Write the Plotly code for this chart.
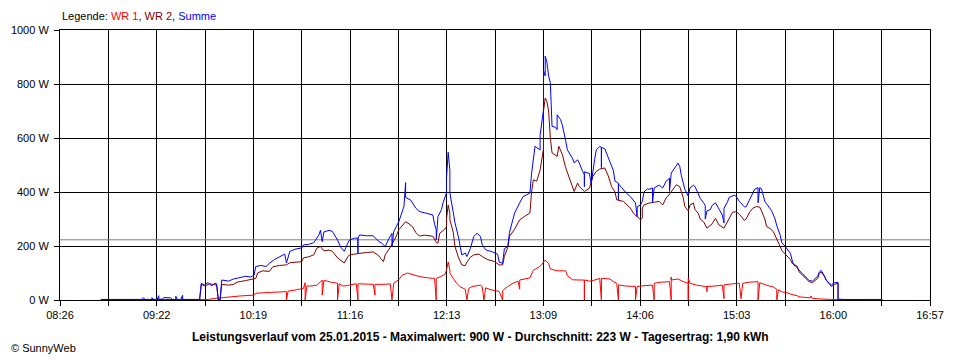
import plotly.graph_objects as go

# ---------------- data ----------------
x_tick_labels = ["08:26", "09:22", "10:19", "11:16", "12:13",
                 "13:09", "14:06", "15:03", "16:00", "16:57"]
y_ticks = [0, 200, 400, 600, 800, 1000]
average_w = 223  # Durchschnitt

title_text = ("Leistungsverlauf vom 25.01.2015 - Maximalwert: 900 W - "
              "Durchschnitt: 223 W - Tagesertrag: 1,90 kWh")

summe_t = ["08:50", "09:14", "09:15", "09:16", "09:20", "09:20", "09:21", "09:23", "09:24", "09:24",
           "09:26", "09:27", "09:31", "09:32", "09:34", "09:34", "09:35", "09:37", "09:38", "09:38",
           "09:48", "09:49", "09:51", "09:53", "09:55", "09:57", "09:58", "09:59", "10:00", "10:01",
           "10:05", "10:08", "10:11", "10:15", "10:18", "10:20", "10:21", "10:24", "10:27", "10:29",
           "10:32", "10:35", "10:38", "10:39", "10:41", "10:44", "10:48", "10:49", "10:52", "10:55",
           "10:58", "10:59", "11:00", "11:01", "11:04", "11:06", "11:09", "11:11", "11:13", "11:15",
           "11:16", "11:19", "11:21", "11:21", "11:21", "11:22", "11:26", "11:30", "11:33", "11:35",
           "11:37", "11:39", "11:41", "11:41", "11:42", "11:45", "11:48", "11:49", "11:49", "11:52",
           "11:53", "11:55", "11:57", "12:01", "12:05", "12:06", "12:07", "12:07", "12:08", "12:10",
           "12:11", "12:13", "12:13", "12:14", "12:15", "12:15", "12:17", "12:18", "12:20", "12:22",
           "12:24", "12:25", "12:27", "12:29", "12:31", "12:33", "12:34", "12:36", "12:40", "12:43",
           "12:44", "12:46", "12:47", "12:49", "12:50", "12:53", "12:56", "12:58", "13:02", "13:03",
           "13:05", "13:07", "13:08", "13:08", "13:10", "13:10", "13:11", "13:11", "13:12", "13:13",
           "13:14", "13:15", "13:17", "13:18", "13:18", "13:20", "13:21", "13:23", "13:24", "13:27",
           "13:28", "13:30", "13:31", "13:33", "13:34", "13:34", "13:34", "13:37", "13:38", "13:40",
           "13:41", "13:43", "13:44", "13:44", "13:44", "13:46", "13:47", "13:49", "13:51", "13:52",
           "13:54", "13:54", "13:54", "13:56", "13:58", "14:01", "14:03", "14:04", "14:05", "14:05",
           "14:07", "14:08", "14:09", "14:11", "14:12", "14:14", "14:14", "14:15", "14:17", "14:18",
           "14:20", "14:22", "14:24", "14:24", "14:25", "14:27", "14:29", "14:30", "14:31", "14:33",
           "14:35", "14:36", "14:38", "14:39", "14:41", "14:42", "14:44", "14:45", "14:45", "14:46",
           "14:48", "14:49", "14:51", "14:52", "14:54", "14:55", "14:56", "14:56", "14:58", "14:59",
           "15:02", "15:03", "15:05", "15:08", "15:09", "15:11", "15:13", "15:14", "15:16", "15:16",
           "15:17", "15:18", "15:20", "15:22", "15:24", "15:26", "15:27", "15:29", "15:30", "15:32",
           "15:33", "15:35", "15:36", "15:37", "15:39", "15:40", "15:42", "15:45", "15:46", "15:48",
           "15:50", "15:51", "15:52", "15:53", "15:55", "15:56", "15:58", "15:59", "16:01", "16:03",
           "16:03", "16:07", "16:29"]
summe_w = [2, 2, 8, 2, 2, 9, 2, 2, 16, 3,
           3, 9, 8, 2, 2, 14, 2, 2, 18, 2,
           2, 62, 55, 65, 52, 62, 60, 0, 0, 74,
           70, 78, 82, 88, 85, 92, 124, 128, 124, 136,
           150, 160, 170, 137, 180, 188, 193, 204, 206, 212,
           240, 258, 216, 252, 258, 254, 222, 195, 180, 210,
           222, 229, 229, 173, 229, 241, 238, 238, 218, 210,
           198, 225, 247, 198, 253, 290, 346, 435, 380, 370,
           360, 340, 328, 322, 315, 280, 260, 223, 309, 334,
           360, 397, 450, 547, 480, 397, 330, 286, 234, 167,
           174, 161, 190, 235, 247, 235, 205, 186, 178, 170,
           140, 136, 190, 198, 250, 322, 360, 383, 396, 470,
           569, 560, 556, 610, 705, 850, 830, 903, 880, 830,
           804, 643, 640, 631, 686, 668, 649, 590, 556, 525,
           508, 519, 508, 475, 464, 420, 475, 468, 430, 520,
           556, 569, 565, 490, 565, 560, 545, 515, 480, 440,
           433, 371, 430, 416, 400, 383, 370, 360, 309, 346,
           352, 365, 400, 412, 410, 415, 360, 415, 423, 425,
           415, 440, 451, 402, 470, 490, 507, 495, 460, 410,
           385, 415, 425, 420, 395, 377, 360, 350, 300, 330,
           335, 350, 360, 348, 325, 315, 285, 340, 362, 380,
           388, 385, 365, 345, 345, 370, 395, 410, 416, 360,
           416, 412, 365, 345, 330, 300, 275, 240, 212, 198,
           188, 173, 148, 130, 120, 111, 98, 80, 72, 70,
           82, 88, 104, 110, 90, 74, 62, 56, 64, 65,
           3, 2, 2]

wr2_t = ["08:50", "09:48", "09:49", "09:51", "09:54", "09:57", "09:58", "09:59", "10:00", "10:01",
         "10:05", "10:08", "10:10", "10:15", "10:18", "10:21", "10:22", "10:25", "10:29", "10:31",
         "10:35", "10:39", "10:41", "10:45", "10:48", "10:49", "10:52", "10:55", "10:57", "10:59",
         "11:01", "11:04", "11:06", "11:09", "11:11", "11:13", "11:15", "11:16", "11:19", "11:22",
         "11:26", "11:30", "11:33", "11:36", "11:37", "11:40", "11:43", "11:45", "11:48", "11:49",
         "11:51", "11:53", "11:55", "11:57", "12:00", "12:05", "12:07", "12:08", "12:09", "12:12",
         "12:13", "12:13", "12:14", "12:15", "12:15", "12:17", "12:18", "12:20", "12:22", "12:24",
         "12:25", "12:27", "12:29", "12:32", "12:34", "12:37", "12:41", "12:44", "12:46", "12:47",
         "12:49", "12:50", "12:53", "12:56", "12:59", "13:02", "13:03", "13:04", "13:06", "13:08",
         "13:10", "13:10", "13:11", "13:12", "13:13", "13:14", "13:15", "13:18", "13:19", "13:20",
         "13:21", "13:23", "13:25", "13:27", "13:28", "13:30", "13:31", "13:34", "13:37", "13:39",
         "13:41", "13:43", "13:46", "13:48", "13:50", "13:52", "13:53", "13:57", "13:59", "14:01",
         "14:03", "14:05", "14:07", "14:08", "14:08", "14:09", "14:12", "14:15", "14:18", "14:20",
         "14:22", "14:24", "14:26", "14:28", "14:30", "14:32", "14:33", "14:35", "14:36", "14:38",
         "14:39", "14:41", "14:42", "14:44", "14:46", "14:48", "14:49", "14:51", "14:52", "14:53",
         "14:56", "14:58", "14:59", "15:01", "15:03", "15:05", "15:08", "15:09", "15:11", "15:13",
         "15:15", "15:17", "15:18", "15:20", "15:21", "15:23", "15:25", "15:27", "15:29", "15:30",
         "15:33", "15:35", "15:36", "15:39", "15:40", "15:42", "15:45", "15:46", "15:48", "15:50",
         "15:51", "15:52", "15:53", "15:55", "15:56", "15:58", "15:59", "16:01", "16:03", "16:03",
         "16:29"]
wr2_w = [2, 2, 58, 52, 60, 55, 55, 0, 0, 58,
         55, 58, 66, 72, 75, 80, 100, 108, 106, 123,
         128, 130, 138, 140, 142, 156, 160, 167, 193, 198,
         182, 185, 180, 156, 145, 137, 160, 167, 170, 173,
         176, 178, 165, 142, 167, 195, 230, 260, 285, 290,
         282, 272, 250, 237, 240, 236, 213, 210, 247, 262,
         272, 300, 352, 320, 297, 250, 198, 158, 130, 127,
         140, 158, 167, 170, 161, 150, 143, 130, 130, 161,
         195, 235, 262, 297, 310, 322, 400, 445, 440, 482,
         560, 700, 748, 735, 700, 600, 545, 532, 569, 552,
         540, 490, 453, 420, 402, 433, 420, 402, 414, 458,
         476, 485, 489, 460, 420, 400, 371, 365, 352, 340,
         320, 309, 297, 303, 340, 352, 359, 362, 365, 352,
         378, 392, 410, 427, 420, 380, 346, 330, 352, 359,
         335, 320, 300, 290, 266, 275, 282, 303, 290, 278,
         266, 290, 305, 325, 327, 318, 295, 300, 325, 340,
         346, 344, 330, 300, 272, 265, 253, 228, 198, 183,
         163, 150, 136, 125, 105, 92, 74, 68, 64, 74,
         80, 98, 104, 87, 74, 58, 50, 58, 62, 1,
         1]

wr1_t = ["08:50", "09:51", "09:53", "09:57", "10:02", "10:03", "10:12", "10:20", "10:21", "10:29",
         "10:37", "10:39", "10:39", "10:40", "10:45", "10:49", "10:50", "10:50", "10:51", "10:54",
         "10:57", "11:00", "11:00", "11:01", "11:03", "11:05", "11:09", "11:09", "11:10", "11:12",
         "11:15", "11:16", "11:20", "11:21", "11:21", "11:25", "11:30", "11:31", "11:31", "11:37",
         "11:40", "11:41", "11:42", "11:45", "11:47", "11:50", "11:53", "11:57", "12:02", "12:05",
         "12:06", "12:07", "12:07", "12:10", "12:12", "12:13", "12:14", "12:15", "12:15", "12:17",
         "12:19", "12:21", "12:24", "12:25", "12:26", "12:28", "12:33", "12:34", "12:35", "12:36",
         "12:39", "12:43", "12:44", "12:46", "12:46", "12:49", "12:52", "12:55", "12:56", "12:56",
         "12:59", "13:02", "13:04", "13:06", "13:08", "13:10", "13:11", "13:13", "13:14", "13:18",
         "13:23", "13:24", "13:27", "13:31", "13:34", "13:34", "13:34", "13:37", "13:39", "13:43",
         "13:44", "13:44", "13:49", "13:51", "13:53", "13:54", "13:54", "13:58", "14:01", "14:04",
         "14:04", "14:05", "14:09", "14:12", "14:14", "14:15", "14:15", "14:19", "14:24", "14:25",
         "14:25", "14:25", "14:29", "14:32", "14:35", "14:35", "14:35", "14:36", "14:40", "14:45",
         "14:46", "14:46", "14:46", "14:51", "14:55", "14:56", "14:56", "15:01", "15:05", "15:06",
         "15:07", "15:11", "15:16", "15:16", "15:17", "15:21", "15:25", "15:27", "15:27", "15:28",
         "15:30", "15:33", "15:36", "15:39", "15:40", "15:43", "15:47", "15:47", "15:48", "15:52",
         "16:00", "16:03", "16:29"]
wr1_w = [0, 0, 2, 6, 9, 12, 15, 18, 25, 28,
         31, 31, 0, 33, 38, 43, 64, 0, 52, 52,
         55, 74, 18, 72, 70, 66, 62, 0, 60, 52,
         53, 56, 60, 0, 60, 60, 58, 18, 58, 58,
         60, 0, 62, 75, 92, 100, 95, 87, 82, 80,
         80, 0, 80, 88, 95, 110, 141, 110, 99, 80,
         62, 49, 40, 0, 42, 50, 55, 50, 0, 45,
         38, 33, 31, 0, 35, 50, 62, 70, 40, 74,
         78, 82, 110, 118, 125, 140, 148, 135, 115, 108,
         108, 90, 75, 74, 74, 0, 74, 70, 72, 80,
         0, 80, 78, 68, 62, 0, 56, 52, 52, 50,
         0, 50, 53, 55, 55, 0, 62, 66, 68, 0,
         85, 74, 78, 68, 62, 0, 80, 62, 55, 50,
         50, 31, 50, 52, 55, 5, 56, 60, 62, 5,
         62, 66, 68, 0, 64, 55, 48, 40, 0, 38,
         30, 27, 20, 16, 12, 10, 8, 15, 6, 4,
         2, 1, 0]


def to_min(hhmm):
    h, m = hhmm.split(":")
    return int(h) * 60 + int(m)


# ---------------- geometry (page pixels) ----------------
# the page body has an 8px margin, so the figure is sized/offset to compensate
PAGE_OFF = 8
W, H = 960 - PAGE_OFF, 360 - PAGE_OFF
PLOT_L, PLOT_R, PLOT_T, PLOT_B = 60, 930, 30, 300
ML = PLOT_L - PAGE_OFF
MT = PLOT_T - PAGE_OFF
MR = 960 - PLOT_R
MB = 360 - PLOT_B


def px(xp):
    return (xp - PLOT_L) / (PLOT_R - PLOT_L)


def py(yp):
    return (PLOT_B - yp) / (PLOT_B - PLOT_T)


x_start = to_min(x_tick_labels[0])
x_end = to_min(x_tick_labels[-1])
n_lines = 2 * (len(x_tick_labels) - 1)
x_tickvals = [x_start + (x_end - x_start) * i / n_lines for i in range(n_lines + 1)]
x_ticktext = [x_tick_labels[i // 2] if i % 2 == 0 else "" for i in range(n_lines + 1)]

FONT = "Liberation Sans, Arial, Helvetica, sans-serif"

fig = go.Figure()
series = [
    ("WR 1", wr1_t, wr1_w, "#ff0000"),
    ("WR 2", wr2_t, wr2_w, "#800000"),
    ("Summe", summe_t, summe_w, "#0000ff"),
]
for name, tt, ww, col in series:
    fig.add_trace(go.Scatter(
        x=[to_min(t) for t in tt], y=ww, mode="lines", name=name,
        line=dict(color=col, width=1), hoverinfo="skip", showlegend=False,
    ))

fig.add_shape(type="line", xref="x", yref="y", x0=x_start, x1=x_end,
              y0=average_w, y1=average_w, line=dict(color="#808080", width=1),
              layer="between")

axis_common = dict(
    showgrid=True, gridcolor="#000000", gridwidth=1,
    showline=True, linecolor="#000000", linewidth=1, mirror=True,
    ticks="outside", ticklen=5, tickcolor="#000000", tickwidth=1,
    zeroline=False, tickfont=dict(family=FONT, size=11, color="#000000"),
    fixedrange=True,
)

fig.update_xaxes(range=[x_start, x_end], tickmode="array",
                 tickvals=x_tickvals, ticktext=x_ticktext, **axis_common)
fig.update_yaxes(range=[0, 1000], tickmode="array", tickvals=y_ticks,
                 ticktext=[f"{v} W" for v in y_ticks], ticklabelstandoff=3,
                 **axis_common)

legend_html = ("Legende: <span style='color:#ff0000'>WR 1</span>, "
               "<span style='color:#800000'>WR 2</span>, "
               "<span style='color:#0000ff'>Summe</span>")

fig.update_layout(
    width=W, height=H, autosize=False,
    margin=dict(l=ML, r=MR, t=MT, b=MB, pad=0, autoexpand=False),
    paper_bgcolor="#ffffff", plot_bgcolor="#ffffff",
    font=dict(family=FONT, size=11, color="#000000"),
    showlegend=False,
    annotations=[
        dict(text=legend_html, xref="paper", yref="paper", x=px(60), y=py(16.5),
             xanchor="left", yanchor="middle", showarrow=False,
             font=dict(family=FONT, size=11, color="#000000")),
        dict(text="<b>" + title_text + "</b>", xref="paper", yref="paper",
             x=px(480), y=py(337), xanchor="center", yanchor="middle",
             showarrow=False, font=dict(family=FONT, size=12, color="#000000")),
        dict(text="© SunnyWeb", xref="paper", yref="paper", x=px(PAGE_OFF + 1), y=py(348),
             xanchor="left", yanchor="middle", showarrow=False,
             font=dict(family=FONT, size=11, color="#000000")),
    ],
)

fig.write_html("out.html")
